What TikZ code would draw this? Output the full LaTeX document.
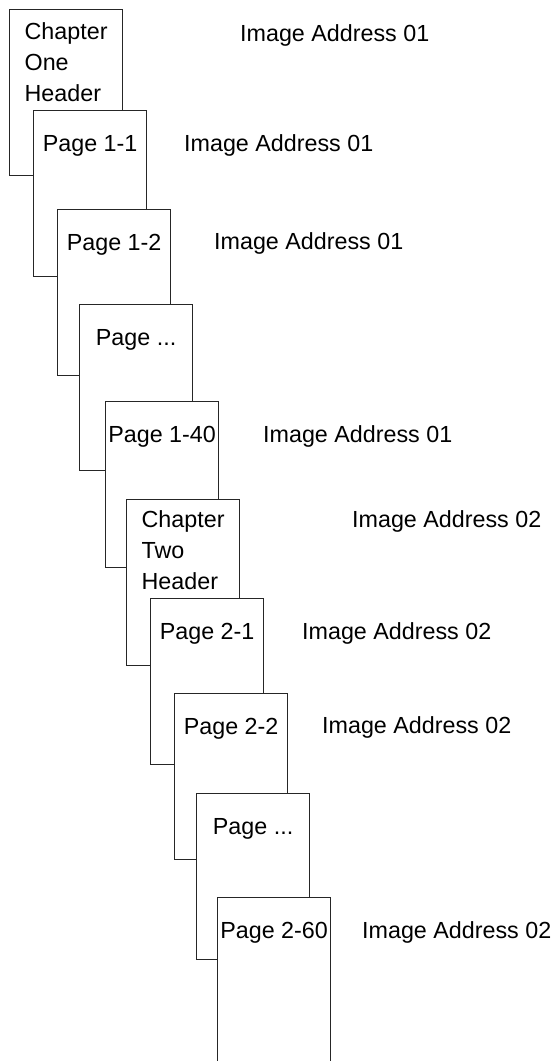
\documentclass[tikz,border=0pt]{standalone}
\usepackage{fontspec}
\setmainfont{Liberation Sans}
\tikzset{
    sheet/.style={draw=black!85, fill=white, line width=1.2pt, minimum width=113pt, minimum height=166pt, inner sep=0pt, anchor=north west},
    sheettext/.style={anchor=base, inner sep=0pt, font=\fontsize{23.3pt}{30.7pt}\selectfont},
    headtext/.style={sheettext, align=left},
    addr/.style={anchor=base west, inner sep=0pt, font=\fontsize{23.3pt}{30.7pt}\selectfont},
}
\begin{document}
\begin{tikzpicture}[x=1pt,y=-1pt]
        \useasboundingbox (0,0) rectangle (555,1061);

        % chapter one
        \node[sheet] (c1) at (9,9) {};
        % base of a multi-line node is its last line
        \node[headtext] (c1t) at ([yshift=-92pt]c1.north) {Chapter\\One\\Header};
        \node[sheet] (p11) at (33,110) {};
        \node[sheettext] (p11t) at ([yshift=-41pt]p11.north) {Page 1-1};
        \node[sheet] (p12) at (57,209) {};
        \node[sheettext] (p12t) at ([yshift=-41pt]p12.north) {Page 1-2};
        \node[sheet] (p1x) at (79,304) {};
        \node[sheettext] (p1xt) at ([yshift=-41pt]p1x.north) {Page ...};
        \node[sheet] (p140) at (105,401) {};
        \node[sheettext] (p140t) at ([yshift=-41pt]p140.north) {Page 1-40};

        % chapter two
        \node[sheet] (c2) at (126,499) {};
        \node[headtext] (c2t) at ([yshift=-90pt]c2.north) {Chapter\\Two\\Header};
        \node[sheet] (p21) at (150,598) {};
        \node[sheettext] (p21t) at ([yshift=-41pt]p21.north) {Page 2-1};
        \node[sheet] (p22) at (174,693) {};
        \node[sheettext] (p22t) at ([yshift=-41pt]p22.north) {Page 2-2};
        \node[sheet] (p2x) at (196,793) {};
        \node[sheettext] (p2xt) at ([yshift=-41pt]p2x.north) {Page ...};
        \node[sheet] (p260) at (217,897) {};
        \node[sheettext] (p260t) at ([yshift=-41pt]p260.north) {Page 2-60};

        % addresses
        \node[addr] (a1) at (240,41) {Image Address 01};
        \node[addr] (a2) at (184,151) {Image Address 01};
        \node[addr] (a3) at (214,249) {Image Address 01};
        \node[addr] (a4) at (263,442) {Image Address 01};
        \node[addr] (a5) at (352,527) {Image Address 02};
        \node[addr] (a6) at (302,639) {Image Address 02};
        \node[addr] (a7) at (322,733) {Image Address 02};
        \node[addr] (a8) at (362,938) {Image Address 02};

    \end{tikzpicture}
\end{document}
